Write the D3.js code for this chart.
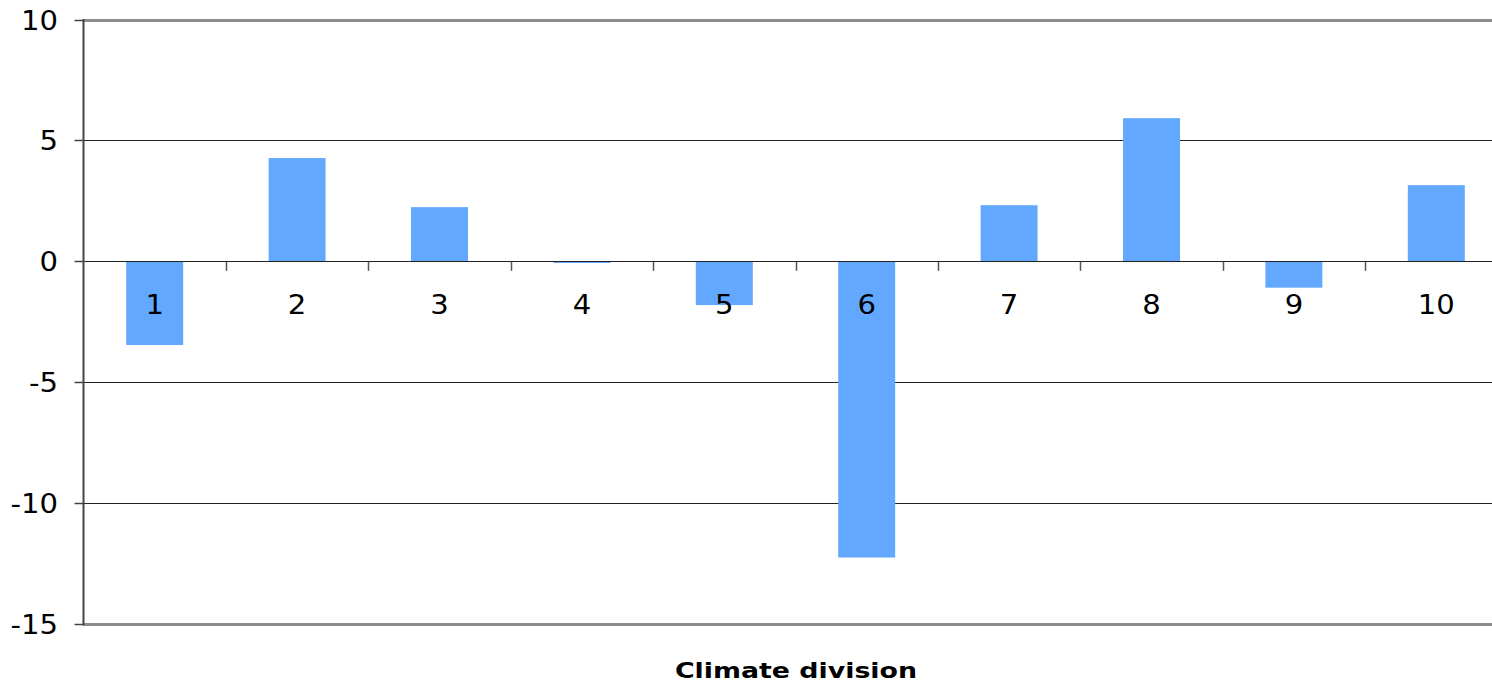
<!DOCTYPE html>
<html>
<head>
<meta charset="utf-8">
<script src="https://cdn.jsdelivr.net/npm/d3@7"></script>
<style>
  html, body { margin: 0; padding: 0; background: #fff; }
  svg { display: block; }
  text { font-family: "DejaVu Sans", Verdana, sans-serif; fill: #000; }
</style>
</head>
<body>
<svg id="chart" width="1492" height="688"></svg>
<script>
// Departure by climate division
const divisions = ["1", "2", "3", "4", "5", "6", "7", "8", "9", "10"];
const departures = [-3.44, 4.29, 2.26, -0.04, -1.79, -12.23, 2.34, 5.94, -1.07, 3.17];
const yTicks = [10, 5, 0, -5, -10, -15];
const xTitle = "Climate division";

const svg = d3.select("#chart");
const W = 1492, H = 688;
const plotLeft = 83.5, plotRight = 1507.5, plotTop = 20, plotBottom = 624.5;

const x = d3.scaleBand()
  .domain(divisions)
  .range([plotLeft, plotRight])
  .paddingInner(0.6)
  .paddingOuter(0.3);

const y = d3.scaleLinear()
  .domain([-15, 10])
  .range([plotBottom, plotTop]);

const stretch = 1.12;

// horizontal gridlines (zero line included)
svg.append("g")
  .selectAll("line")
  .data(yTicks.filter(d => d !== 10 && d !== -15))
  .join("line")
  .attr("x1", plotLeft).attr("x2", W)
  .attr("y1", d => Math.floor(y(d)) + 0.5).attr("y2", d => Math.floor(y(d)) + 0.5)
  .attr("stroke", "#222").attr("stroke-width", 1);

// plot border top and bottom
svg.append("line")
  .attr("x1", plotLeft).attr("x2", W)
  .attr("y1", y(10) + 0.5).attr("y2", y(10) + 0.5)
  .attr("stroke", "#8c8c8c").attr("stroke-width", 3);
svg.append("line")
  .attr("x1", plotLeft).attr("x2", W)
  .attr("y1", y(-15)).attr("y2", y(-15))
  .attr("stroke", "#8c8c8c").attr("stroke-width", 3);

// bars, starting just off the zero line
const zeroY = Math.floor(y(0)) + 1;
svg.append("g")
  .selectAll("rect")
  .data(divisions.map((d, i) => ({ d, v: departures[i] })))
  .join("rect")
  .attr("x", d => x(d.d))
  .attr("width", x.bandwidth())
  .attr("y", d => d.v >= 0 ? y(d.v) : zeroY)
  .attr("height", d => d.v >= 0 ? zeroY - 1 - y(d.v) : Math.max(1, y(d.v) - zeroY))
  .attr("fill", "#62a8ff");

// category tick marks at band boundaries
const step = x.step();
const boundaries = d3.range(1, divisions.length).map(i => plotLeft + i * step);
svg.append("g")
  .selectAll("line")
  .data(boundaries)
  .join("line")
  .attr("x1", d => Math.round(d) + 0.5).attr("x2", d => Math.round(d) + 0.5)
  .attr("y1", y(0)).attr("y2", y(0) + 9)
  .attr("stroke", "#555").attr("stroke-width", 1.5);

// category labels
svg.append("g")
  .selectAll("text")
  .data(divisions)
  .join("text")
  .attr("transform", d => `translate(${x(d) + x.bandwidth() / 2},${y(0) + 52}) scale(${stretch},1)`)
  .attr("text-anchor", "middle")
  .attr("font-size", 26)
  .text(d => d);

// y axis
const yAxis = svg.append("g");
yAxis.append("line")
  .attr("x1", plotLeft).attr("x2", plotLeft)
  .attr("y1", plotTop - 1).attr("y2", plotBottom + 1)
  .attr("stroke", "#444").attr("stroke-width", 2);
yAxis.selectAll("line.tick")
  .data(yTicks)
  .join("line")
  .attr("class", "tick")
  .attr("x1", plotLeft - 9).attr("x2", plotLeft)
  .attr("y1", d => Math.floor(y(d)) + 0.5).attr("y2", d => Math.floor(y(d)) + 0.5)
  .attr("stroke", "#444").attr("stroke-width", 1.5);
yAxis.selectAll("text")
  .data(yTicks)
  .join("text")
  .attr("transform", d => `translate(58,${y(d) + 9.5}) scale(${stretch},1)`)
  .attr("text-anchor", "end")
  .attr("font-size", 26)
  .text(d => d);

// axis title
svg.append("text")
  .attr("transform", `translate(796,678) scale(1.22,1)`)
  .attr("text-anchor", "middle")
  .attr("font-size", 22)
  .attr("font-weight", "bold")
  .text(xTitle);
</script>
</body>
</html>
